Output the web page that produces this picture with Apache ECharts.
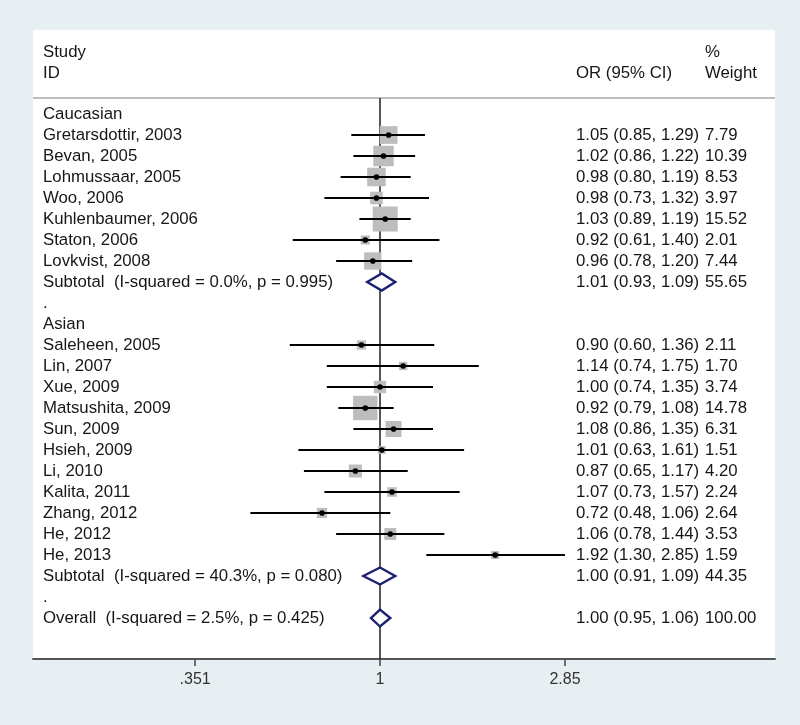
<!DOCTYPE html>
<html><head><meta charset="utf-8">
<script src="https://cdn.jsdelivr.net/npm/echarts@6/dist/echarts.min.js"></script>
<style>html,body{margin:0;padding:0;background:#e8eff2;}#c{width:800px;height:725px;}</style>
</head><body><div id="c"></div>
<script>
// ---- data ----
const rowLabels = [
  'Caucasian',
  'Gretarsdottir, 2003','Bevan, 2005','Lohmussaar, 2005','Woo, 2006','Kuhlenbaumer, 2006','Staton, 2006','Lovkvist, 2008',
  'Subtotal  (I-squared = 0.0%, p = 0.995)',
  '.',
  'Asian',
  'Saleheen, 2005','Lin, 2007','Xue, 2009','Matsushita, 2009','Sun, 2009','Hsieh, 2009','Li, 2010','Kalita, 2011','Zhang, 2012','He, 2012','He, 2013',
  'Subtotal  (I-squared = 40.3%, p = 0.080)',
  '.',
  'Overall  (I-squared = 2.5%, p = 0.425)'
];
// kind: g = group title, s = study, d = pooled (diamond), b = blank
const rowKinds = ['g','s','s','s','s','s','s','s','d','b','g','s','s','s','s','s','s','s','s','s','s','s','d','b','d'];
const orValues = [null,1.05,1.02,0.98,0.98,1.03,0.92,0.96,1.01,null,null,0.90,1.14,1.00,0.92,1.08,1.01,0.87,1.07,0.72,1.06,1.92,1.00,null,1.00];
const ciLow    = [null,0.85,0.86,0.80,0.73,0.89,0.61,0.78,0.93,null,null,0.60,0.74,0.74,0.79,0.86,0.63,0.65,0.73,0.48,0.78,1.30,0.91,null,0.95];
const ciHigh   = [null,1.29,1.22,1.19,1.32,1.19,1.40,1.20,1.09,null,null,1.36,1.75,1.35,1.08,1.35,1.61,1.17,1.57,1.06,1.44,2.85,1.09,null,1.06];
const weights  = [null,7.79,10.39,8.53,3.97,15.52,2.01,7.44,55.65,null,null,2.11,1.70,3.74,14.78,6.31,1.51,4.20,2.24,2.64,3.53,1.59,44.35,null,100.00];
const headerStudy = ['Study','ID'];
const headerOR = 'OR (95% CI)';
const headerWeight = ['%','Weight'];
const tickValues = [0.351, 1, 2.85];
const tickLabels = ['.351', '1', '2.85'];

// ---- layout / style constants ----
const FONT = '"Liberation Sans", Arial, sans-serif';
const FS = 16.8;
const TXT = '#161616';
const NAVY = '#1b2170';
const X_MIN = -1.9649, X_MAX = 2.2367;
const Y_MIN = -4, Y_MAX = 25.952;
const HEAD_ROW1 = -2.952, HEAD_ROW2 = -1.952, RULE_ROW = -0.762;
const BOX_K = 6.35;
const DIAMOND_H = 8.5;

const studyData = [], diamondData = [], textData = [];
rowLabels.forEach((lab, i) => {
  if (rowKinds[i] === 's') studyData.push([i, orValues[i], ciLow[i], ciHigh[i], weights[i]]);
  if (rowKinds[i] === 'd') diamondData.push([i, orValues[i], ciLow[i], ciHigh[i], weights[i]]);
  textData.push([0, i]);
});

function txt(x, y, s, align) {
  return {type:'text', style:{x:x, y:y, text:s, fill:TXT, fontSize:FS, fontFamily:FONT, align:align||'left', verticalAlign:'middle'}};
}

const chart = echarts.init(document.getElementById('c'), null, {renderer:'canvas'});
chart.setOption({
  backgroundColor:'#e8eff2',
  animation:false,
  grid:{left:33, right:25, top:30, bottom:66, show:true, backgroundColor:'#ffffff', borderWidth:0},
  xAxis:{
    type:'value', min:X_MIN, max:X_MAX,
    splitLine:{show:false},
    axisLine:{show:true, onZero:false, lineStyle:{color:'#555', width:2}},
    axisTick:{show:true, customValues:tickValues.map(Math.log), length:7, lineStyle:{color:'#444', width:1.5}},
    axisLabel:{show:true, customValues:tickValues.map(Math.log), margin:13, fontSize:16, fontFamily:FONT, color:'#333',
      formatter:function(v){ for (let k=0;k<tickValues.length;k++){ if (Math.abs(Math.log(tickValues[k])-v)<1e-6) return tickLabels[k]; } return ''; }}
  },
  yAxis:{type:'value', min:Y_MIN, max:Y_MAX, inverse:true, show:false},
  series:[
    { // header rule, null line, header texts
      type:'custom', data:[[0,0]], z:1, silent:true,
      renderItem:function(params, api){
        const cs = params.coordSys;
        const r = api.coord([0, RULE_ROW]);
        const b = api.coord([0, Y_MAX]);
        const h1 = api.coord([0, HEAD_ROW1])[1], h2 = api.coord([0, HEAD_ROW2])[1];
        return {type:'group', children:[
          {type:'line', shape:{x1:cs.x, y1:r[1], x2:cs.x+cs.width, y2:r[1]}, style:{stroke:'#a8a8a8', lineWidth:1.5}},
          {type:'line', shape:{x1:r[0], y1:r[1], x2:b[0], y2:b[1]}, style:{stroke:'#111', lineWidth:1.4}},
          txt(cs.x+10, h1, headerStudy[0]), txt(cs.x+10, h2, headerStudy[1]),
          txt(cs.x+543, h2, headerOR),
          txt(cs.x+672, h1, headerWeight[0]), txt(cs.x+672, h2, headerWeight[1])
        ]};
      }
    },
    { // study boxes, CIs, points
      type:'custom', data:studyData, z:2, silent:true,
      renderItem:function(params, api){
        const row=api.value(0), or=api.value(1), lo=api.value(2), hi=api.value(3), w=api.value(4);
        const c=api.coord([Math.log(or),row]), l=api.coord([Math.log(lo),row]), h=api.coord([Math.log(hi),row]);
        const s=BOX_K*Math.sqrt(w);
        return {type:'group', children:[
          {type:'rect', shape:{x:c[0]-s/2, y:c[1]-s/2, width:s, height:s}, style:{fill:'#bdbdbd'}},
          {type:'line', shape:{x1:l[0], y1:l[1], x2:h[0], y2:h[1]}, style:{stroke:'#000', lineWidth:2.2}},
          {type:'circle', shape:{cx:c[0], cy:c[1], r:2.8}, style:{fill:'#000'}}
        ]};
      }
    },
    { // pooled diamonds
      type:'custom', data:diamondData, z:3, silent:true,
      renderItem:function(params, api){
        const row=api.value(0), or=api.value(1), lo=api.value(2), hi=api.value(3);
        const c=api.coord([Math.log(or),row]), l=api.coord([Math.log(lo),row]), h=api.coord([Math.log(hi),row]);
        return {type:'polygon', shape:{points:[[l[0],l[1]],[c[0],c[1]-DIAMOND_H],[h[0],h[1]],[c[0],c[1]+DIAMOND_H]]},
          style:{fill:'#fff', stroke:NAVY, lineWidth:2.4}};
      }
    },
    { // row texts
      type:'custom', data:textData, z:4, silent:true,
      renderItem:function(params, api){
        const cs = params.coordSys;
        const i = api.value(1);
        const y = api.coord([0, i])[1];
        const kids = [txt(cs.x+10, y, rowLabels[i])];
        if (orValues[i] != null) {
          kids.push(txt(cs.x+543, y, orValues[i].toFixed(2)+' ('+ciLow[i].toFixed(2)+', '+ciHigh[i].toFixed(2)+')'));
          kids.push(txt(cs.x+672, y, weights[i].toFixed(2)));
        }
        return {type:'group', children:kids};
      }
    }
  ]
});
</script>
</body></html>
